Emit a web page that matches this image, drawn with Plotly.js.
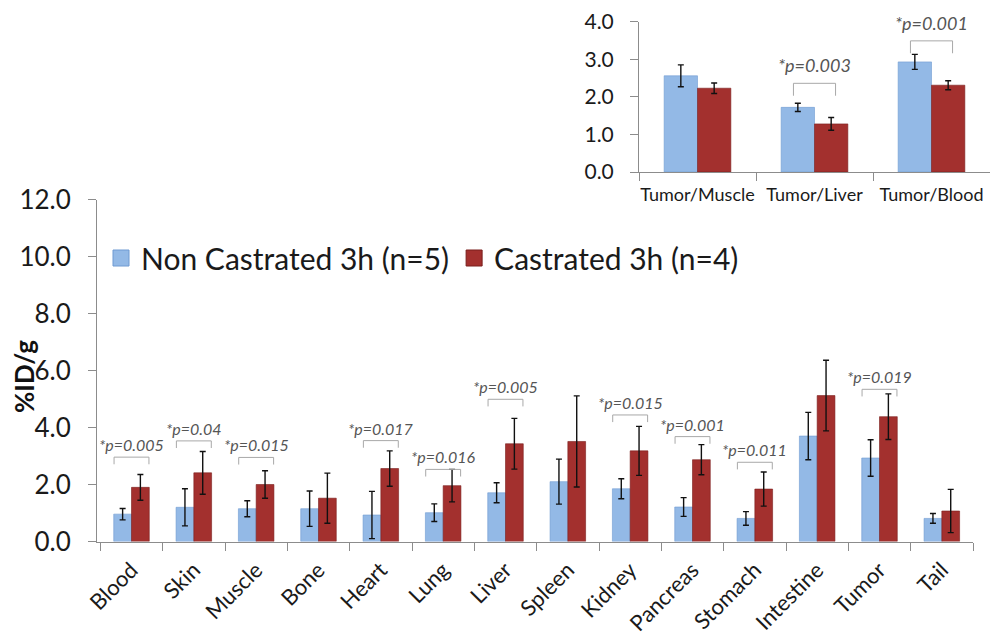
<!DOCTYPE html>
<html><head><meta charset="utf-8">
<script src="https://cdn.plot.ly/plotly-3.0.1.min.js"></script>
<style>html,body{margin:0;padding:0;background:#fff}#c{width:990px;height:635px}</style>
</head><body><div id="c"></div>
<script>
// ---- main chart data ----
const organs = ["Blood","Skin","Muscle","Bone","Heart","Lung","Liver","Spleen","Kidney","Pancreas","Stomach","Intestine","Tumor","Tail"];
const nonCastrated = [0.96,1.20,1.15,1.15,0.93,1.01,1.71,2.10,1.85,1.21,0.81,3.70,2.93,0.81];
const nonCastratedErr = [0.20,0.65,0.28,0.62,0.83,0.31,0.35,0.79,0.35,0.33,0.24,0.83,0.64,0.17];
const castrated = [1.90,2.41,2.00,1.52,2.56,1.96,3.43,3.51,3.18,2.87,1.84,5.12,4.38,1.07];
const castratedErr = [0.45,0.75,0.48,0.88,0.62,0.57,0.89,1.60,0.86,0.53,0.60,1.24,0.80,0.76];
// p-value labels (organ, text, bracket level)
const pOrgans = ["Blood","Skin","Muscle","Heart","Lung","Liver","Kidney","Pancreas","Stomach","Tumor"];
const pTexts = ["*p=0.005","*p=0.04","*p=0.015","*p=0.017","*p=0.016","*p=0.005","*p=0.015","*p=0.001","*p=0.011","*p=0.019"];
const pLevels = [2.96,3.53,2.95,3.54,2.53,4.99,4.44,3.68,2.78,5.34];

// ---- inset data ----
const ratios = ["Tumor/Muscle","Tumor/Liver","Tumor/Blood"];
const ratioNon = [2.56,1.72,2.93];
const ratioNonErr = [0.29,0.11,0.20];
const ratioCas = [2.23,1.28,2.31];
const ratioCasErr = [0.14,0.17,0.12];
const ratioPCats = ["Tumor/Liver","Tumor/Blood"];
const ratioPTexts = ["*p=0.003","*p=0.001"];
const ratioPLevels = [2.36,3.49];

const seriesNames = ["Non Castrated 3h (n=5)","Castrated 3h (n=4)"];

const W=990,H=635;
const px=v=>v/W, py=v=>(H-v)/H;
const FONT="Lato, 'Open Sans', sans-serif";
const BLUE="#93B9E6", RED="#A3302E";
const BLUE_EDGE="#6F9AD2", RED_EDGE="#7A1E1C";
const eb=(arr)=>({type:'data',array:arr,visible:true,color:'#111',thickness:1.4,width:3});

const traces=[
 {type:'bar',name:seriesNames[0],x:organs,y:nonCastrated,error_y:eb(nonCastratedErr),showlegend:false,
  marker:{color:BLUE,line:{color:BLUE_EDGE,width:0.6}},xaxis:'x',yaxis:'y'},
 {type:'bar',name:seriesNames[1],x:organs,y:castrated,error_y:eb(castratedErr),showlegend:false,
  marker:{color:RED,line:{color:RED_EDGE,width:0.6}},xaxis:'x',yaxis:'y'},
 {type:'bar',name:seriesNames[0],x:ratios,y:ratioNon,error_y:eb(ratioNonErr),showlegend:false,
  marker:{color:BLUE,line:{color:BLUE_EDGE,width:0.6}},xaxis:'x2',yaxis:'y2'},
 {type:'bar',name:seriesNames[1],x:ratios,y:ratioCas,error_y:eb(ratioCasErr),showlegend:false,
  marker:{color:RED,line:{color:RED_EDGE,width:0.6}},xaxis:'x2',yaxis:'y2'},
 // legend entries (larger square swatches, as in the original)
 {type:'scatter',mode:'markers',name:seriesNames[0],x:[null],y:[null],xaxis:'x',yaxis:'y',
  marker:{symbol:'square',size:16,color:BLUE,line:{color:BLUE_EDGE,width:1}}},
 {type:'scatter',mode:'markers',name:seriesNames[1],x:[null],y:[null],xaxis:'x',yaxis:'y',
  marker:{symbol:'square',size:16,color:RED,line:{color:RED_EDGE,width:1}}}
];

const shapes=[], annotations=[];
function bracket(xr,yr,idx,lvl,leg,half){
  const ln={color:'#A8A8A8',width:1};
  shapes.push({type:'line',xref:xr,yref:yr,x0:idx-half,x1:idx+half,y0:lvl,y1:lvl,line:ln});
  shapes.push({type:'line',xref:xr,yref:yr,x0:idx-half,x1:idx-half,y0:lvl,y1:lvl-leg,line:ln});
  shapes.push({type:'line',xref:xr,yref:yr,x0:idx+half,x1:idx+half,y0:lvl,y1:lvl-leg,line:ln});
}
pOrgans.forEach((o,i)=>{
  const idx=organs.indexOf(o);
  bracket('x','y',idx,pLevels[i],0.25,0.28);
  annotations.push({xref:'x',yref:'y',x:idx,y:pLevels[i],yanchor:'bottom',xanchor:'center',showarrow:false,yshift:1,
    text:'<i>'+pTexts[i]+'</i>',font:{family:FONT,size:16,color:'#555'}});
});
ratioPCats.forEach((c,i)=>{
  const idx=ratios.indexOf(c);
  bracket('x2','y2',idx,ratioPLevels[i],0.33,0.18);
  annotations.push({xref:'x2',yref:'y2',x:idx,y:ratioPLevels[i],yanchor:'bottom',xanchor:'center',showarrow:false,yshift:5,
    text:'<i>'+ratioPTexts[i]+'</i>',font:{family:FONT,size:18,color:'#555'}});
});
annotations.push({xref:'paper',yref:'paper',x:px(24),y:py(377),textangle:-90,showarrow:false,
  text:'<b>%ID/g</b>',font:{family:FONT,size:26,color:'#111'},xanchor:'center',yanchor:'middle'});

const axCommon={showline:true,linecolor:'#8C8C8C',linewidth:1,ticks:'outside',tickcolor:'#8C8C8C',ticklen:8,
  showgrid:false,zeroline:false,fixedrange:true};
const layout={
  width:W,height:H,margin:{l:0,r:0,t:0,b:0},paper_bgcolor:'#fff',plot_bgcolor:'rgba(0,0,0,0)',
  barmode:'group',bargap:0.43,bargroupgap:0,
  font:{family:FONT,color:'#1a1a1a'},
  xaxis:Object.assign({},axCommon,{domain:[px(97),px(973)],anchor:'y',type:'category',tickson:'boundaries',
    tickangle:-45,ticklabelstandoff:6,tickfont:{family:FONT,size:22}}),
  yaxis:Object.assign({},axCommon,{domain:[py(541.5),py(199.5)],anchor:'x',range:[0,12],dtick:2,tickformat:'.1f',
    ticklabelstandoff:12,tickfont:{family:FONT,size:26}}),
  xaxis2:Object.assign({},axCommon,{domain:[px(639),px(990)],anchor:'y2',type:'category',tickson:'boundaries',
    tickangle:0,ticklabelstandoff:6,tickfont:{family:FONT,size:18}}),
  yaxis2:Object.assign({},axCommon,{domain:[py(172),py(21.7)],anchor:'x2',range:[0,4],dtick:1,tickformat:'.1f',
    ticklabelstandoff:12,tickfont:{family:FONT,size:21}}),
  legend:{orientation:'h',x:px(101),y:py(258),xanchor:'left',yanchor:'middle',font:{family:FONT,size:30},
    bgcolor:'rgba(0,0,0,0)',itemsizing:'trace'},
  shapes:shapes,annotations:annotations
};
Plotly.newPlot('c',traces,layout,{displayModeBar:false,staticPlot:true});
</script></body></html>
